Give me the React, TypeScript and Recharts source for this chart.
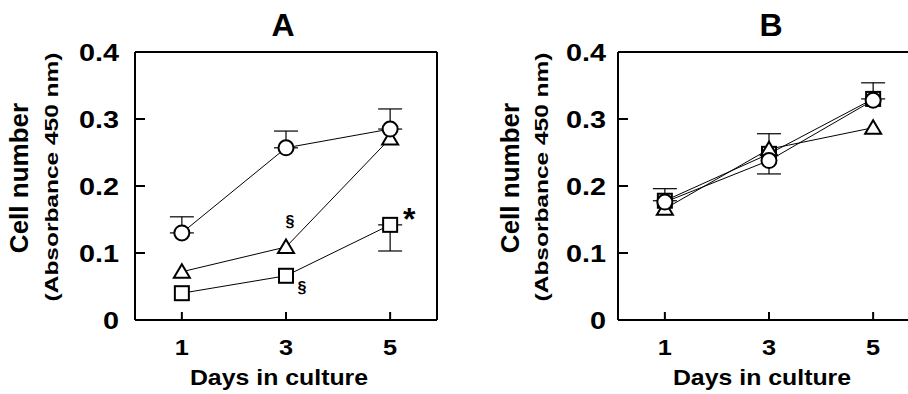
import React from "react";
import { LineChart, Line, XAxis, YAxis, ErrorBar, ReferenceLine } from "recharts";

const FONT = '"Liberation Sans", Arial, Helvetica, sans-serif';

const days = [1, 3, 5];
const xTicks = [1, 3, 5];
const yTicks = [0, 0.1, 0.2, 0.3, 0.4];

// panel A
const aCircle = [0.13, 0.257, 0.285];
const aCircleErr = [[0, 0.024], [0, 0.025], [0, 0.03]];
const aTriangle = [0.072, 0.109, 0.271];
const aSquare = [0.04, 0.066, 0.142];
const aSquareErr = [null, null, [0.039, 0]];

// panel B
const bCircle = [0.176, 0.238, 0.328];
const bTriangle = [0.166, 0.255, 0.287];
const bSquare = [0.178, 0.248, 0.33];
const bSquareErr = [[0, 0.018], [0.03, 0.03], [0, 0.024]];

const aNotes = [
  { series: "triangle", index: 1, text: "§", dx: 4, dy: -20, size: 16 },
  { series: "square", index: 1, text: "§", dx: 16, dy: 17, size: 16 },
  { series: "square", index: 2, text: "*", dx: 19, dy: 5, size: 32 },
];

type Note = { series: string; index: number; text: string; dx: number; dy: number; size: number };

function rowsFor(circle: number[], triangle: number[], square: number[], circleErr: any[], squareErr: any[]) {
  return days.map((d, i) => ({
    day: d,
    circle: circle[i],
    triangle: triangle[i],
    square: square[i],
    circleErr: circleErr[i],
    squareErr: squareErr[i],
  }));
}

// bold text, optionally rotated and stretched along its run
function Stretch({ x, y, sx = 1, rot = 0, anchor = "middle", size, children }: any) {
  return (
    <text
      transform={`translate(${x},${y}) rotate(${rot}) scale(${sx},1)`}
      textAnchor={anchor}
      fontSize={size}
      fontWeight="bold"
      fontFamily={FONT}
      fill="#000"
    >
      {children}
    </text>
  );
}

function Marker({ shape, cx, cy }: { shape: string; cx: number; cy: number }) {
  const st = { fill: "#fff", stroke: "#000", strokeWidth: 2 };
  if (shape === "circle") return <circle cx={cx} cy={cy} r={7.5} {...st} />;
  if (shape === "square") return <rect x={cx - 7} y={cy - 7} width={14} height={14} {...st} />;
  return <polygon points={`${cx},${cy - 7.5} ${cx + 8},${cy + 6} ${cx - 8},${cy + 6}`} {...st} />;
}

function dotFor(shape: string, notes: Note[]) {
  return (p: any) => {
    const note = notes.find((n) => n.series === shape && n.index === p.index);
    return (
      <g key={`${shape}-${p.index}`}>
        <Marker shape={shape} cx={p.cx} cy={p.cy} />
        {note && (
          <text
            x={p.cx + note.dx}
            y={p.cy + note.dy}
            textAnchor="middle"
            fontSize={note.size}
            fontWeight="bold"
            fontFamily={FONT}
          >
            {note.text}
          </text>
        )}
      </g>
    );
  };
}

const fmt = (v: number) => (v === 0 ? "0" : v.toFixed(1));

const YTick = (p: any) => (
  <Stretch x={p.x} y={p.y + 8.6} sx={1.2} anchor="end" size={24}>
    {fmt(p.payload.value)}
  </Stretch>
);

const XTick = (p: any) => (
  <Stretch x={p.x} y={p.y + 35} sx={1.15} size={22}>
    {p.payload.value}
  </Stretch>
);

type PanelProps = {
  rows: any[];
  title: string;
  notes: Note[];
  tickGap: number;
  cellX: number;
  absX: number;
  titleX: number;
  daysX: number;
  errOn: string[];
};

function Panel({ rows, title, notes, tickGap, cellX, absX, titleX, daysX, errOn }: PanelProps) {
  const series = ["square", "triangle", "circle"];
  return (
    <LineChart width={454} height={394} data={rows} margin={{ top: 52, right: 17, bottom: 14, left: 35 }}>
      <XAxis
        dataKey="day"
        type="number"
        domain={[0.1, 5.9]}
        ticks={xTicks}
        allowDataOverflow
        height={60}
        tickSize={-8}
        tickMargin={8}
        tick={XTick}
        axisLine={{ stroke: "#000", strokeWidth: 2 }}
        tickLine={{ stroke: "#000", strokeWidth: 2 }}
      />
      <YAxis
        type="number"
        domain={[0, 0.4]}
        ticks={yTicks}
        width={100}
        tickSize={-10}
        tickMargin={tickGap}
        tick={YTick}
        axisLine={{ stroke: "#000", strokeWidth: 2 }}
        tickLine={{ stroke: "#000", strokeWidth: 2 }}
      />
      <ReferenceLine y={0.4} stroke="#000" strokeWidth={2} ifOverflow="visible" />
      <ReferenceLine x={5.9} stroke="#000" strokeWidth={2} ifOverflow="visible" />
      {series.map((s) => (
        <Line
          key={s}
          type="linear"
          dataKey={s}
          stroke="#000"
          strokeWidth={1}
          dot={dotFor(s, notes)}
          activeDot={false}
          isAnimationActive={false}
        >
          {errOn.includes(s) && (
            <ErrorBar dataKey={`${s}Err`} width={12} stroke="#000" strokeWidth={1.2} direction="y" />
          )}
        </Line>
      ))}
      <text x={titleX} y={36} textAnchor="middle" fontSize={32} fontWeight="bold" fontFamily={FONT}>
        {title}
      </text>
      <Stretch x={cellX} y={178} rot={-90} sx={1} size={26}>
        Cell number
      </Stretch>
      <Stretch x={absX} y={177} rot={-90} sx={1.4} size={17.5}>
        (Absorbance 450 nm)
      </Stretch>
      <Stretch x={daysX} y={385} sx={1.13} size={22}>
        Days in culture
      </Stretch>
    </LineChart>
  );
}

export default function App() {
  const rowsA = rowsFor(aCircle, aTriangle, aSquare, aCircleErr, aSquareErr);
  const rowsB = rowsFor(bCircle, bTriangle, bSquare, [null, null, null], bSquareErr);
  return (
    <div
      style={{
        position: "fixed",
        left: 0,
        top: 0,
        width: 908,
        height: 394,
        overflow: "hidden",
        background: "#fff",
      }}
    >
      <div style={{ position: "absolute", left: 0, top: 0 }}>
        <Panel
          rows={rowsA}
          title="A"
          notes={aNotes}
          tickGap={26}
          cellX={28}
          absX={58}
          titleX={283}
          daysX={279}
          errOn={["circle", "square"]}
        />
      </div>
      <div style={{ position: "absolute", left: 483, top: 0 }}>
        <Panel
          rows={rowsB}
          title="B"
          notes={[]}
          tickGap={22}
          cellX={36}
          absX={65}
          titleX={288}
          daysX={279}
          errOn={["square"]}
        />
      </div>
    </div>
  );
}
